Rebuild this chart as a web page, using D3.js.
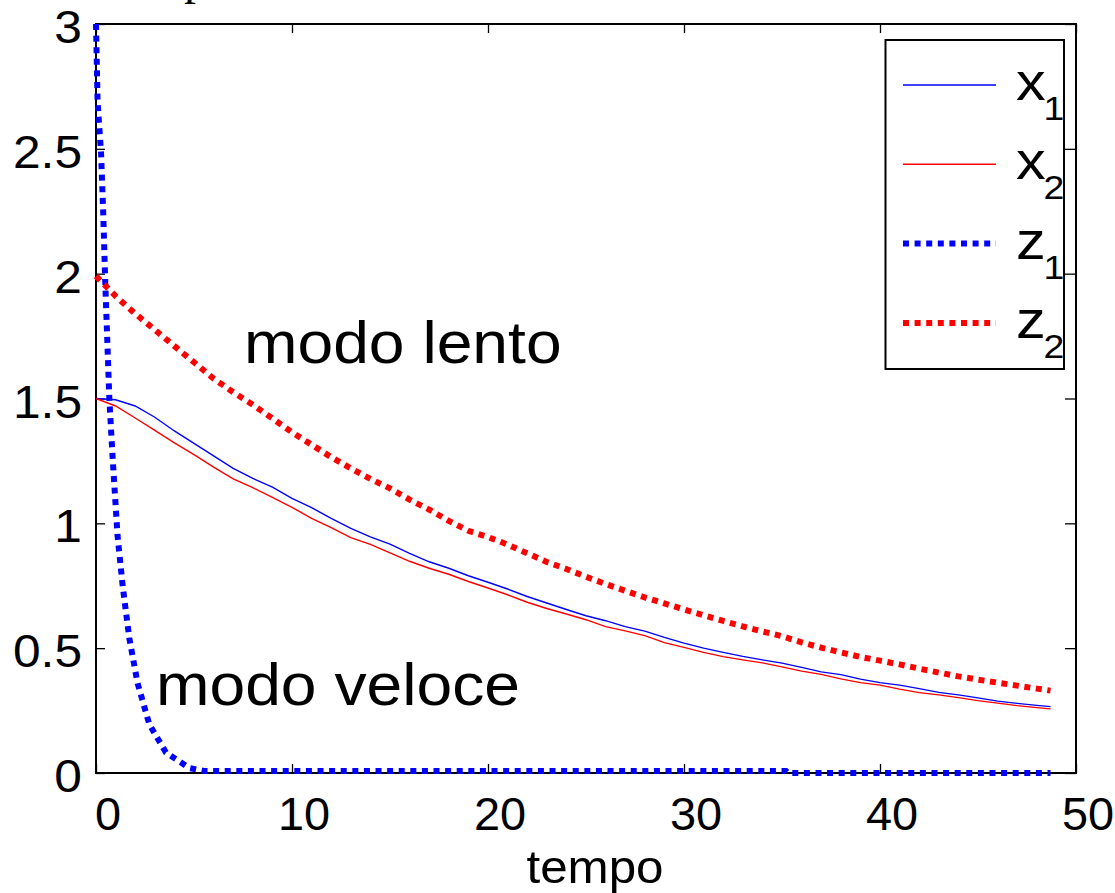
<!DOCTYPE html>
<html>
<head>
<meta charset="utf-8">
<script src="https://cdn.jsdelivr.net/npm/d3@7"></script>
<style>
  body { margin: 0; background: #fff; }
  svg { display: block; }
  text { font-family: 'Liberation Sans', Arial, sans-serif; fill: #000; }
</style>
</head>
<body>
<script>
// time grid shared by x1, x2, z2
const tGrid = [0, 1, 2, 3, 4, 5, 6, 7, 8, 9, 10, 11, 12, 13, 14, 15, 16, 17, 18, 19, 20,
  21, 22, 23, 24, 25, 26, 27, 28, 29, 30, 31, 32, 33, 34, 35, 36, 37, 38, 39, 40,
  41, 42, 43, 44, 45, 46, 47, 48, 48.7];

const x1Vals = [1.5, 1.495, 1.47, 1.425, 1.37, 1.32, 1.27, 1.22, 1.18, 1.145, 1.1,
  1.063, 1.02, 0.98, 0.946, 0.917, 0.88, 0.846, 0.82, 0.79, 0.764,
  0.737, 0.707, 0.681, 0.655, 0.63, 0.61, 0.586, 0.568, 0.543, 0.52,
  0.5, 0.483, 0.467, 0.453, 0.44, 0.423, 0.405, 0.394, 0.376, 0.362,
  0.352, 0.338, 0.323, 0.313, 0.301, 0.288, 0.279, 0.271, 0.266];

const x2Vals = [1.5, 1.47, 1.422, 1.372, 1.322, 1.275, 1.225, 1.178, 1.143, 1.104, 1.064,
  1.02, 0.983, 0.943, 0.916, 0.882, 0.848, 0.82, 0.796, 0.767, 0.741,
  0.714, 0.684, 0.659, 0.637, 0.614, 0.586, 0.569, 0.55, 0.522, 0.503,
  0.483, 0.466, 0.453, 0.441, 0.425, 0.408, 0.395, 0.377, 0.362, 0.352,
  0.336, 0.322, 0.313, 0.302, 0.29, 0.28, 0.27, 0.262, 0.257];

const z2Vals = [1.99, 1.91, 1.84, 1.775, 1.71, 1.645, 1.58, 1.525, 1.475, 1.42, 1.365,
  1.315, 1.265, 1.22, 1.178, 1.14, 1.095, 1.055, 1.01, 0.97, 0.945,
  0.915, 0.88, 0.845, 0.817, 0.786, 0.757, 0.73, 0.703, 0.679, 0.655,
  0.632, 0.609, 0.587, 0.567, 0.548, 0.523, 0.502, 0.483, 0.465, 0.45,
  0.435, 0.418, 0.402, 0.387, 0.374, 0.362, 0.35, 0.338, 0.33];

// fast mode has its own samples
const z1Time = [0, 0.08, 0.26, 0.37, 0.47, 0.68, 0.85, 1.1, 1.36, 1.7, 2.12, 2.72, 3.57, 4.76, 5.5, 35.2, 35.3, 48.7];
const z1Vals = [3, 2.69, 2.48, 2.24, 1.97, 1.5, 1.26, 0.95, 0.75, 0.54, 0.36, 0.195, 0.082, 0.02, 0.008, 0.008, 0, 0];

const xTicks = [0, 10, 20, 30, 40, 50];
const yTicks = [0, 0.5, 1, 1.5, 2, 2.5, 3];
const yTickLabels = ['0', '0.5', '1', '1.5', '2', '2.5', '3'];

const legendNames = ['x', 'x', 'z', 'z'];
const legendSubs = ['1', '2', '1', '2'];
const legendColors = ['#0000ff', '#ff0000', '#0000ff', '#ff0000'];
const legendDotted = [false, false, true, true];

const svgWidth = 1115;
const svgHeight = 893;
const plotLeft = 96;
const plotRight = 1076;
const plotTop = 24;
const plotBottom = 773;

const svg = d3.select('body')
  .append('svg')
  .attr('width', svgWidth)
  .attr('height', svgHeight);

const xScale = d3.scaleLinear().domain([0, 50]).range([plotLeft, plotRight]);
const yScale = d3.scaleLinear().domain([0, 3]).range([plotBottom, plotTop]);

// cut-off title fragment at the very top
svg.append('text')
  .attr('x', 184)
  .attr('y', -6)
  .style('font-family', "'Liberation Serif', serif")
  .style('font-size', '48px')
  .text('p');

// AXES (inward ticks, no labels)
const tickStyle = g => {
  g.select('.domain').remove();
  g.selectAll('line').attr('stroke', '#000').attr('stroke-width', 1.3);
  g.selectAll('text').remove();
};

svg.append('g')
  .attr('transform', `translate(0,${plotBottom})`)
  .call(d3.axisBottom(xScale).tickValues(xTicks).tickSize(-9))
  .call(tickStyle);

svg.append('g')
  .attr('transform', `translate(0,${plotTop})`)
  .call(d3.axisTop(xScale).tickValues(xTicks).tickSize(-9))
  .call(tickStyle);

svg.append('g')
  .attr('transform', `translate(${plotLeft},0)`)
  .call(d3.axisLeft(yScale).tickValues(yTicks).tickSize(-9))
  .call(tickStyle);

svg.append('g')
  .attr('transform', `translate(${plotRight},0)`)
  .call(d3.axisRight(yScale).tickValues(yTicks).tickSize(-11))
  .call(tickStyle);

svg.append('rect')
  .attr('x', plotLeft)
  .attr('y', plotTop)
  .attr('width', plotRight - plotLeft)
  .attr('height', plotBottom - plotTop)
  .attr('fill', 'none')
  .attr('stroke', '#000')
  .attr('stroke-width', 2);

// tick labels
svg.selectAll('.xlab')
  .data(xTicks)
  .enter()
  .append('text')
  .attr('class', 'xlab')
  .attr('transform', d => `translate(${xScale(d) + 12},830) scale(1.02,1)`)
  .attr('text-anchor', 'middle')
  .style('font-size', '46px')
  .text(d => d);

svg.selectAll('.ylab')
  .data(yTicks)
  .enter()
  .append('text')
  .attr('class', 'ylab')
  .attr('transform', d => `translate(82,${yScale(d) + 19}) scale(1.08,1)`)
  .attr('text-anchor', 'end')
  .style('font-size', '46px')
  .text((d, i) => yTickLabels[i]);

svg.append('text')
  .attr('transform', 'translate(595,883) scale(1.05,1)')
  .attr('text-anchor', 'middle')
  .style('font-size', '47px')
  .text('tempo');

// LINES
const line = d3.line()
  .x(d => xScale(d[0]))
  .y(d => yScale(d[1]));

const series = [
  { pts: tGrid.map((t, i) => [t, x1Vals[i]]), color: '#0000ff', dotted: false },
  { pts: tGrid.map((t, i) => [t, x2Vals[i]]), color: '#ff0000', dotted: false },
  { pts: z1Time.map((t, i) => [t, z1Vals[i]]), color: '#0000ff', dotted: true },
  { pts: tGrid.map((t, i) => [t, z2Vals[i]]), color: '#ff0000', dotted: true }
];

svg.selectAll('.series')
  .data(series)
  .enter()
  .append('path')
  .attr('class', 'series')
  .attr('d', d => line(d.pts))
  .attr('fill', 'none')
  .attr('stroke', d => d.color)
  .attr('stroke-width', d => (d.dotted ? 6 : 1.4))
  .attr('stroke-dasharray', d => (d.dotted ? '6,5.6' : null));

// annotations
svg.append('text')
  .attr('transform', 'translate(244,363) scale(1.07,1)')
  .style('font-size', '60px')
  .text('modo lento');

svg.append('text')
  .attr('transform', 'translate(156,705) scale(1.07,1)')
  .style('font-size', '60px')
  .text('modo veloce');

// LEGEND
const legend = svg.append('g');

legend.append('rect')
  .attr('x', 885.5)
  .attr('y', 40)
  .attr('width', 178.5)
  .attr('height', 329)
  .attr('fill', '#fff')
  .attr('stroke', '#000')
  .attr('stroke-width', 2);

const legendY = i => 85 + i * 79.3;

legend.selectAll('.lline')
  .data(legendNames)
  .enter()
  .append('line')
  .attr('x1', 903)
  .attr('x2', 996)
  .attr('y1', (d, i) => legendY(i))
  .attr('y2', (d, i) => legendY(i))
  .attr('stroke', (d, i) => legendColors[i])
  .attr('stroke-width', (d, i) => (legendDotted[i] ? 6 : 1.4))
  .attr('stroke-dasharray', (d, i) => (legendDotted[i] ? '6,5.6' : null));

const labels = legend.selectAll('.llab')
  .data(legendNames)
  .enter()
  .append('text')
  .attr('class', 'llab')
  .attr('transform', (d, i) => `translate(1016,${legendY(i) + 15}) scale(1.1,1)`)
  .style('font-size', '54px');

labels.append('tspan').text(d => d);
labels.append('tspan')
  .attr('dy', 20)
  .attr('dx', -2)
  .style('font-size', '34px')
  .text((d, i) => legendSubs[i]);
</script>
</body>
</html>
